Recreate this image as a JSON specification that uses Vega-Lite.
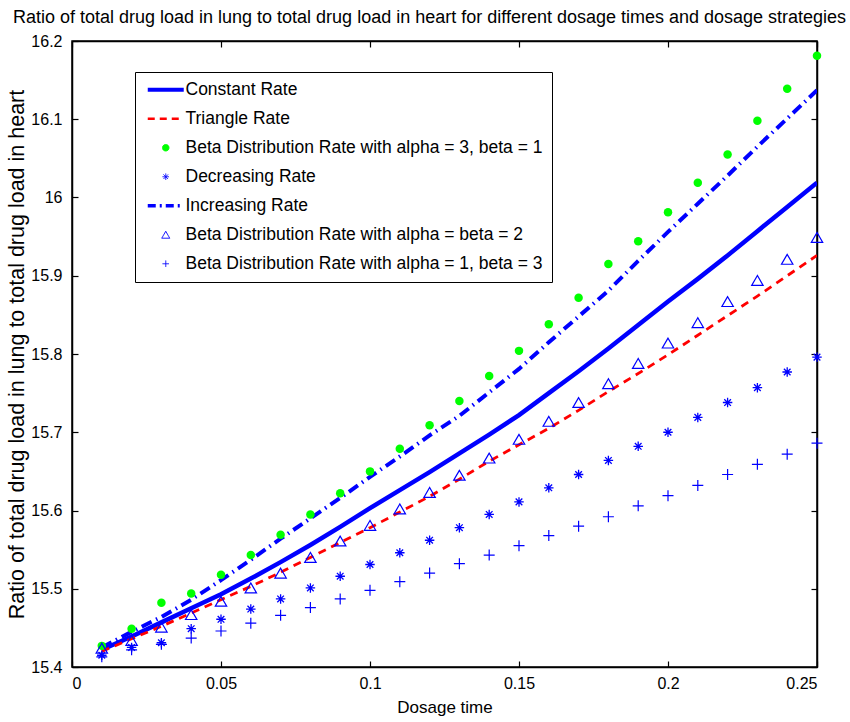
{
  "$schema": "https://vega.github.io/schema/vega-lite/v6.json",
  "width": 745,
  "height": 626,
  "autosize": "none",
  "padding": {"left": 72, "top": 41, "right": 33, "bottom": 55},
  "background": "white",
  "title": {
    "text": "Ratio of total drug load in lung to total drug load in heart for different dosage times and dosage strategies",
    "font": "Liberation Sans",
    "fontSize": 18,
    "fontWeight": "normal",
    "color": "black",
    "anchor": "middle",
    "offset": 6,
    "dx": -15
  },
  "config": {
    "view": {"stroke": "black", "strokeWidth": 1.5},
    "axis": {
      "grid": false,
      "domainColor": "black",
      "domainWidth": 1.5,
      "tickColor": "black",
      "tickWidth": 1.2,
      "tickSize": -6,
      "labelFont": "Liberation Sans",
      "labelFontSize": 16,
      "labelColor": "black",
      "titleFont": "Liberation Sans",
      "titleFontSize": 17,
      "titleFontWeight": "normal",
      "titleColor": "black"
    }
  },
  "datasets": {
    "lines": [
      {"s": "Constant Rate", "x": 0.01, "y": 15.422}, {"s": "Constant Rate", "x": 0.02, "y": 15.439}, {"s": "Constant Rate", "x": 0.03, "y": 15.457}, {"s": "Constant Rate", "x": 0.04, "y": 15.475}, {"s": "Constant Rate", "x": 0.05, "y": 15.493},
      {"s": "Constant Rate", "x": 0.06, "y": 15.513}, {"s": "Constant Rate", "x": 0.07, "y": 15.534}, {"s": "Constant Rate", "x": 0.08, "y": 15.556}, {"s": "Constant Rate", "x": 0.09, "y": 15.579}, {"s": "Constant Rate", "x": 0.10, "y": 15.603},
      {"s": "Constant Rate", "x": 0.11, "y": 15.626}, {"s": "Constant Rate", "x": 0.12, "y": 15.649}, {"s": "Constant Rate", "x": 0.13, "y": 15.673}, {"s": "Constant Rate", "x": 0.14, "y": 15.697}, {"s": "Constant Rate", "x": 0.15, "y": 15.722},
      {"s": "Constant Rate", "x": 0.16, "y": 15.750}, {"s": "Constant Rate", "x": 0.17, "y": 15.778}, {"s": "Constant Rate", "x": 0.18, "y": 15.807}, {"s": "Constant Rate", "x": 0.19, "y": 15.837}, {"s": "Constant Rate", "x": 0.20, "y": 15.867},
      {"s": "Constant Rate", "x": 0.21, "y": 15.896}, {"s": "Constant Rate", "x": 0.22, "y": 15.926}, {"s": "Constant Rate", "x": 0.23, "y": 15.957}, {"s": "Constant Rate", "x": 0.24, "y": 15.988}, {"s": "Constant Rate", "x": 0.25, "y": 16.019},
      {"s": "Triangle Rate", "x": 0.01, "y": 15.420}, {"s": "Triangle Rate", "x": 0.02, "y": 15.436}, {"s": "Triangle Rate", "x": 0.03, "y": 15.452}, {"s": "Triangle Rate", "x": 0.04, "y": 15.469}, {"s": "Triangle Rate", "x": 0.05, "y": 15.486},
      {"s": "Triangle Rate", "x": 0.06, "y": 15.503}, {"s": "Triangle Rate", "x": 0.07, "y": 15.521}, {"s": "Triangle Rate", "x": 0.08, "y": 15.540}, {"s": "Triangle Rate", "x": 0.09, "y": 15.559}, {"s": "Triangle Rate", "x": 0.10, "y": 15.578},
      {"s": "Triangle Rate", "x": 0.11, "y": 15.598}, {"s": "Triangle Rate", "x": 0.12, "y": 15.618}, {"s": "Triangle Rate", "x": 0.13, "y": 15.640}, {"s": "Triangle Rate", "x": 0.14, "y": 15.663}, {"s": "Triangle Rate", "x": 0.15, "y": 15.684},
      {"s": "Triangle Rate", "x": 0.16, "y": 15.705}, {"s": "Triangle Rate", "x": 0.17, "y": 15.728}, {"s": "Triangle Rate", "x": 0.18, "y": 15.752}, {"s": "Triangle Rate", "x": 0.19, "y": 15.775}, {"s": "Triangle Rate", "x": 0.20, "y": 15.799},
      {"s": "Triangle Rate", "x": 0.21, "y": 15.824}, {"s": "Triangle Rate", "x": 0.22, "y": 15.849}, {"s": "Triangle Rate", "x": 0.23, "y": 15.874}, {"s": "Triangle Rate", "x": 0.24, "y": 15.900}, {"s": "Triangle Rate", "x": 0.25, "y": 15.926},
      {"s": "Increasing Rate", "x": 0.01, "y": 15.425}, {"s": "Increasing Rate", "x": 0.02, "y": 15.445}, {"s": "Increasing Rate", "x": 0.03, "y": 15.464}, {"s": "Increasing Rate", "x": 0.04, "y": 15.486}, {"s": "Increasing Rate", "x": 0.05, "y": 15.511},
      {"s": "Increasing Rate", "x": 0.06, "y": 15.537}, {"s": "Increasing Rate", "x": 0.07, "y": 15.564}, {"s": "Increasing Rate", "x": 0.08, "y": 15.590}, {"s": "Increasing Rate", "x": 0.09, "y": 15.616}, {"s": "Increasing Rate", "x": 0.10, "y": 15.643},
      {"s": "Increasing Rate", "x": 0.11, "y": 15.669}, {"s": "Increasing Rate", "x": 0.12, "y": 15.696}, {"s": "Increasing Rate", "x": 0.13, "y": 15.721}, {"s": "Increasing Rate", "x": 0.14, "y": 15.751}, {"s": "Increasing Rate", "x": 0.15, "y": 15.781},
      {"s": "Increasing Rate", "x": 0.16, "y": 15.815}, {"s": "Increasing Rate", "x": 0.17, "y": 15.848}, {"s": "Increasing Rate", "x": 0.18, "y": 15.881}, {"s": "Increasing Rate", "x": 0.19, "y": 15.919}, {"s": "Increasing Rate", "x": 0.20, "y": 15.956},
      {"s": "Increasing Rate", "x": 0.21, "y": 15.992}, {"s": "Increasing Rate", "x": 0.22, "y": 16.028}, {"s": "Increasing Rate", "x": 0.23, "y": 16.065}, {"s": "Increasing Rate", "x": 0.24, "y": 16.101}, {"s": "Increasing Rate", "x": 0.25, "y": 16.137}
    ],
    "points": [
      {"s": "Beta Distribution Rate with alpha = 3, beta = 1", "x": 0.01, "y": 15.427}, {"s": "Beta Distribution Rate with alpha = 3, beta = 1", "x": 0.02, "y": 15.449}, {"s": "Beta Distribution Rate with alpha = 3, beta = 1", "x": 0.03, "y": 15.482}, {"s": "Beta Distribution Rate with alpha = 3, beta = 1", "x": 0.04, "y": 15.494}, {"s": "Beta Distribution Rate with alpha = 3, beta = 1", "x": 0.05, "y": 15.518},
      {"s": "Beta Distribution Rate with alpha = 3, beta = 1", "x": 0.06, "y": 15.543}, {"s": "Beta Distribution Rate with alpha = 3, beta = 1", "x": 0.07, "y": 15.569}, {"s": "Beta Distribution Rate with alpha = 3, beta = 1", "x": 0.08, "y": 15.595}, {"s": "Beta Distribution Rate with alpha = 3, beta = 1", "x": 0.09, "y": 15.622}, {"s": "Beta Distribution Rate with alpha = 3, beta = 1", "x": 0.10, "y": 15.650},
      {"s": "Beta Distribution Rate with alpha = 3, beta = 1", "x": 0.11, "y": 15.679}, {"s": "Beta Distribution Rate with alpha = 3, beta = 1", "x": 0.12, "y": 15.709}, {"s": "Beta Distribution Rate with alpha = 3, beta = 1", "x": 0.13, "y": 15.740}, {"s": "Beta Distribution Rate with alpha = 3, beta = 1", "x": 0.14, "y": 15.772}, {"s": "Beta Distribution Rate with alpha = 3, beta = 1", "x": 0.15, "y": 15.804},
      {"s": "Beta Distribution Rate with alpha = 3, beta = 1", "x": 0.16, "y": 15.838}, {"s": "Beta Distribution Rate with alpha = 3, beta = 1", "x": 0.17, "y": 15.872}, {"s": "Beta Distribution Rate with alpha = 3, beta = 1", "x": 0.18, "y": 15.915}, {"s": "Beta Distribution Rate with alpha = 3, beta = 1", "x": 0.19, "y": 15.944}, {"s": "Beta Distribution Rate with alpha = 3, beta = 1", "x": 0.20, "y": 15.981},
      {"s": "Beta Distribution Rate with alpha = 3, beta = 1", "x": 0.21, "y": 16.019}, {"s": "Beta Distribution Rate with alpha = 3, beta = 1", "x": 0.22, "y": 16.055}, {"s": "Beta Distribution Rate with alpha = 3, beta = 1", "x": 0.23, "y": 16.098}, {"s": "Beta Distribution Rate with alpha = 3, beta = 1", "x": 0.24, "y": 16.139}, {"s": "Beta Distribution Rate with alpha = 3, beta = 1", "x": 0.25, "y": 16.181},
      {"s": "Decreasing Rate", "x": 0.01, "y": 15.415}, {"s": "Decreasing Rate", "x": 0.02, "y": 15.425}, {"s": "Decreasing Rate", "x": 0.03, "y": 15.431}, {"s": "Decreasing Rate", "x": 0.04, "y": 15.449}, {"s": "Decreasing Rate", "x": 0.05, "y": 15.461},
      {"s": "Decreasing Rate", "x": 0.06, "y": 15.474}, {"s": "Decreasing Rate", "x": 0.07, "y": 15.487}, {"s": "Decreasing Rate", "x": 0.08, "y": 15.501}, {"s": "Decreasing Rate", "x": 0.09, "y": 15.516}, {"s": "Decreasing Rate", "x": 0.10, "y": 15.531},
      {"s": "Decreasing Rate", "x": 0.11, "y": 15.546}, {"s": "Decreasing Rate", "x": 0.12, "y": 15.562}, {"s": "Decreasing Rate", "x": 0.13, "y": 15.578}, {"s": "Decreasing Rate", "x": 0.14, "y": 15.595}, {"s": "Decreasing Rate", "x": 0.15, "y": 15.611},
      {"s": "Decreasing Rate", "x": 0.16, "y": 15.629}, {"s": "Decreasing Rate", "x": 0.17, "y": 15.646}, {"s": "Decreasing Rate", "x": 0.18, "y": 15.664}, {"s": "Decreasing Rate", "x": 0.19, "y": 15.682}, {"s": "Decreasing Rate", "x": 0.20, "y": 15.700},
      {"s": "Decreasing Rate", "x": 0.21, "y": 15.719}, {"s": "Decreasing Rate", "x": 0.22, "y": 15.738}, {"s": "Decreasing Rate", "x": 0.23, "y": 15.757}, {"s": "Decreasing Rate", "x": 0.24, "y": 15.777}, {"s": "Decreasing Rate", "x": 0.25, "y": 15.796},
      {"s": "Beta Distribution Rate with alpha = beta = 2", "x": 0.01, "y": 15.424}, {"s": "Beta Distribution Rate with alpha = beta = 2", "x": 0.02, "y": 15.434}, {"s": "Beta Distribution Rate with alpha = beta = 2", "x": 0.03, "y": 15.451}, {"s": "Beta Distribution Rate with alpha = beta = 2", "x": 0.04, "y": 15.467}, {"s": "Beta Distribution Rate with alpha = beta = 2", "x": 0.05, "y": 15.484},
      {"s": "Beta Distribution Rate with alpha = beta = 2", "x": 0.06, "y": 15.501}, {"s": "Beta Distribution Rate with alpha = beta = 2", "x": 0.07, "y": 15.520}, {"s": "Beta Distribution Rate with alpha = beta = 2", "x": 0.08, "y": 15.540}, {"s": "Beta Distribution Rate with alpha = beta = 2", "x": 0.09, "y": 15.561}, {"s": "Beta Distribution Rate with alpha = beta = 2", "x": 0.10, "y": 15.581},
      {"s": "Beta Distribution Rate with alpha = beta = 2", "x": 0.11, "y": 15.602}, {"s": "Beta Distribution Rate with alpha = beta = 2", "x": 0.12, "y": 15.623}, {"s": "Beta Distribution Rate with alpha = beta = 2", "x": 0.13, "y": 15.645}, {"s": "Beta Distribution Rate with alpha = beta = 2", "x": 0.14, "y": 15.667}, {"s": "Beta Distribution Rate with alpha = beta = 2", "x": 0.15, "y": 15.691},
      {"s": "Beta Distribution Rate with alpha = beta = 2", "x": 0.16, "y": 15.714}, {"s": "Beta Distribution Rate with alpha = beta = 2", "x": 0.17, "y": 15.738}, {"s": "Beta Distribution Rate with alpha = beta = 2", "x": 0.18, "y": 15.762}, {"s": "Beta Distribution Rate with alpha = beta = 2", "x": 0.19, "y": 15.788}, {"s": "Beta Distribution Rate with alpha = beta = 2", "x": 0.20, "y": 15.814},
      {"s": "Beta Distribution Rate with alpha = beta = 2", "x": 0.21, "y": 15.840}, {"s": "Beta Distribution Rate with alpha = beta = 2", "x": 0.22, "y": 15.867}, {"s": "Beta Distribution Rate with alpha = beta = 2", "x": 0.23, "y": 15.894}, {"s": "Beta Distribution Rate with alpha = beta = 2", "x": 0.24, "y": 15.921}, {"s": "Beta Distribution Rate with alpha = beta = 2", "x": 0.25, "y": 15.949},
      {"s": "Beta Distribution Rate with alpha = 1, beta = 3", "x": 0.01, "y": 15.413}, {"s": "Beta Distribution Rate with alpha = 1, beta = 3", "x": 0.02, "y": 15.422}, {"s": "Beta Distribution Rate with alpha = 1, beta = 3", "x": 0.03, "y": 15.429}, {"s": "Beta Distribution Rate with alpha = 1, beta = 3", "x": 0.04, "y": 15.437}, {"s": "Beta Distribution Rate with alpha = 1, beta = 3", "x": 0.05, "y": 15.446},
      {"s": "Beta Distribution Rate with alpha = 1, beta = 3", "x": 0.06, "y": 15.456}, {"s": "Beta Distribution Rate with alpha = 1, beta = 3", "x": 0.07, "y": 15.466}, {"s": "Beta Distribution Rate with alpha = 1, beta = 3", "x": 0.08, "y": 15.476}, {"s": "Beta Distribution Rate with alpha = 1, beta = 3", "x": 0.09, "y": 15.487}, {"s": "Beta Distribution Rate with alpha = 1, beta = 3", "x": 0.10, "y": 15.498},
      {"s": "Beta Distribution Rate with alpha = 1, beta = 3", "x": 0.11, "y": 15.509}, {"s": "Beta Distribution Rate with alpha = 1, beta = 3", "x": 0.12, "y": 15.520}, {"s": "Beta Distribution Rate with alpha = 1, beta = 3", "x": 0.13, "y": 15.532}, {"s": "Beta Distribution Rate with alpha = 1, beta = 3", "x": 0.14, "y": 15.543}, {"s": "Beta Distribution Rate with alpha = 1, beta = 3", "x": 0.15, "y": 15.555},
      {"s": "Beta Distribution Rate with alpha = 1, beta = 3", "x": 0.16, "y": 15.568}, {"s": "Beta Distribution Rate with alpha = 1, beta = 3", "x": 0.17, "y": 15.580}, {"s": "Beta Distribution Rate with alpha = 1, beta = 3", "x": 0.18, "y": 15.592}, {"s": "Beta Distribution Rate with alpha = 1, beta = 3", "x": 0.19, "y": 15.606}, {"s": "Beta Distribution Rate with alpha = 1, beta = 3", "x": 0.20, "y": 15.619},
      {"s": "Beta Distribution Rate with alpha = 1, beta = 3", "x": 0.21, "y": 15.632}, {"s": "Beta Distribution Rate with alpha = 1, beta = 3", "x": 0.22, "y": 15.646}, {"s": "Beta Distribution Rate with alpha = 1, beta = 3", "x": 0.23, "y": 15.659}, {"s": "Beta Distribution Rate with alpha = 1, beta = 3", "x": 0.24, "y": 15.672}, {"s": "Beta Distribution Rate with alpha = 1, beta = 3", "x": 0.25, "y": 15.686}
    ]
  },
  "resolve": {"axis": {"x": "independent", "y": "independent"}},
  "layer": [
    {
      "data": {"name": "lines"},
      "transform": [{"filter": "datum.s === 'Constant Rate'"}],
      "mark": {"type": "line", "strokeWidth": 4.5, "clip": true},
      "encoding": {
        "x": {"field": "x", "type": "quantitative", "scale": {"domain": [0, 0.25], "nice": false, "zero": false},
              "axis": {"values": [0, 0.05, 0.1, 0.15, 0.2, 0.25], "format": "~g", "title": "Dosage time", "labelPadding": 14, "titlePadding": 8}},
        "y": {"field": "y", "type": "quantitative", "scale": {"domain": [15.4, 16.2], "nice": false, "zero": false},
              "axis": {"values": [15.4, 15.5, 15.6, 15.7, 15.8, 15.9, 16, 16.1, 16.2], "format": "~g", "title": "Ratio of total drug load in lung to total drug load in heart", "titleFontSize": 21.5, "labelPadding": 16, "titlePadding": 2}},
        "color": {
          "field": "s", "type": "nominal",
          "scale": {
            "domain": ["Constant Rate", "Triangle Rate", "Beta Distribution Rate with alpha = 3, beta = 1", "Decreasing Rate", "Increasing Rate", "Beta Distribution Rate with alpha = beta = 2", "Beta Distribution Rate with alpha = 1, beta = 3"],
            "range": ["#0000ff", "#ff0000", "#00ff00", "#0000ff", "#0000ff", "#0000ff", "#0000ff"]
          },
          "legend": {
            "title": null,
            "orient": "none",
            "legendX": 63,
            "legendY": 31,
            "strokeColor": "black",
            "fillColor": "white",
            "padding": 9,
            "labelFont": "Liberation Sans",
            "labelFontSize": 17.5,
            "labelColor": "black",
            "labelLimit": 0,
            "symbolSize": 100,
            "symbolOffset": 13,
            "labelOffset": 11,
            "rowPadding": 10,
            "encode": {
              "symbols": {
                "update": {
                  "shape": {"signal": "datum.value === 'Beta Distribution Rate with alpha = 3, beta = 1' ? 'circle' : datum.value === 'Decreasing Rate' ? 'M-1,0L1,0M0,-1L0,1M-0.7,-0.7L0.7,0.7M-0.7,0.7L0.7,-0.7' : datum.value === 'Beta Distribution Rate with alpha = beta = 2' ? 'triangle-up' : datum.value === 'Beta Distribution Rate with alpha = 1, beta = 3' ? 'M-1,0L1,0M0,-1L0,1' : 'stroke'"},
                  "size": {"signal": "datum.value === 'Constant Rate' || datum.value === 'Triangle Rate' || datum.value === 'Increasing Rate' ? 1296 : datum.value === 'Beta Distribution Rate with alpha = beta = 2' ? 64 : 42"},
                  "fill": {"signal": "datum.value === 'Beta Distribution Rate with alpha = 3, beta = 1' ? '#00ff00' : 'transparent'"},
                  "fillOpacity": {"signal": "datum.value === 'Beta Distribution Rate with alpha = 3, beta = 1' ? 1 : 0"},
                  "stroke": {"signal": "datum.value === 'Triangle Rate' ? '#ff0000' : datum.value === 'Beta Distribution Rate with alpha = 3, beta = 1' ? 'transparent' : '#0000ff'"},
                  "strokeWidth": {"signal": "datum.value === 'Constant Rate' ? 4 : datum.value === 'Triangle Rate' ? 2.5 : datum.value === 'Increasing Rate' ? 3.5 : 1"},
                  "strokeDash": {"signal": "datum.value === 'Triangle Rate' ? [7, 5] : datum.value === 'Increasing Rate' ? [8, 4, 2, 4] : [1, 0]"},
                  "opacity": {"value": 1}
                }
              }
            }
          }
        }
      }
    },
    {
      "data": {"name": "lines"},
      "transform": [{"filter": "datum.s === 'Triangle Rate'"}],
      "mark": {"type": "line", "strokeWidth": 2.8, "strokeDash": [8, 6], "clip": true},
      "encoding": {
        "x": {"field": "x", "type": "quantitative", "axis": null},
        "y": {"field": "y", "type": "quantitative", "axis": null},
        "color": {"field": "s", "type": "nominal"}
      }
    },
    {
      "data": {"name": "lines"},
      "transform": [{"filter": "datum.s === 'Increasing Rate'"}],
      "mark": {"type": "line", "strokeWidth": 4, "strokeDash": [11, 5, 1.5, 5], "clip": true},
      "encoding": {
        "x": {"field": "x", "type": "quantitative", "axis": null},
        "y": {"field": "y", "type": "quantitative", "axis": null},
        "color": {"field": "s", "type": "nominal"}
      }
    },
    {
      "data": {"name": "points"},
      "transform": [{"filter": "datum.s === 'Beta Distribution Rate with alpha = 3, beta = 1'"}],
      "mark": {"type": "point", "shape": "circle", "filled": true, "size": 72, "opacity": 1},
      "encoding": {
        "x": {"field": "x", "type": "quantitative", "axis": null},
        "y": {"field": "y", "type": "quantitative", "axis": null},
        "color": {"field": "s", "type": "nominal"}
      }
    },
    {
      "data": {"name": "points"},
      "transform": [{"filter": "datum.s === 'Decreasing Rate'"}],
      "mark": {"type": "point", "shape": "M-1,0L1,0M0,-1L0,1M-0.7,-0.7L0.7,0.7M-0.7,0.7L0.7,-0.7", "filled": false, "size": 90, "strokeWidth": 1.3, "opacity": 1},
      "encoding": {
        "x": {"field": "x", "type": "quantitative", "axis": null},
        "y": {"field": "y", "type": "quantitative", "axis": null},
        "color": {"field": "s", "type": "nominal"}
      }
    },
    {
      "data": {"name": "points"},
      "transform": [{"filter": "datum.s === 'Beta Distribution Rate with alpha = beta = 2'"}],
      "mark": {"type": "point", "shape": "triangle-up", "filled": false, "size": 130, "strokeWidth": 1.2, "opacity": 1},
      "encoding": {
        "x": {"field": "x", "type": "quantitative", "axis": null},
        "y": {"field": "y", "type": "quantitative", "axis": null},
        "color": {"field": "s", "type": "nominal"}
      }
    },
    {
      "data": {"name": "points"},
      "transform": [{"filter": "datum.s === 'Beta Distribution Rate with alpha = 1, beta = 3'"}],
      "mark": {"type": "point", "shape": "M-1,0L1,0M0,-1L0,1", "filled": false, "size": 121, "strokeWidth": 1.2, "opacity": 1},
      "encoding": {
        "x": {"field": "x", "type": "quantitative",
              "axis": {"orient": "top", "values": [0, 0.05, 0.1, 0.15, 0.2, 0.25], "labels": false, "title": null}},
        "y": {"field": "y", "type": "quantitative",
              "axis": {"orient": "right", "values": [15.4, 15.5, 15.6, 15.7, 15.8, 15.9, 16, 16.1, 16.2], "labels": false, "title": null}},
        "color": {"field": "s", "type": "nominal"}
      }
    }
  ]
}
